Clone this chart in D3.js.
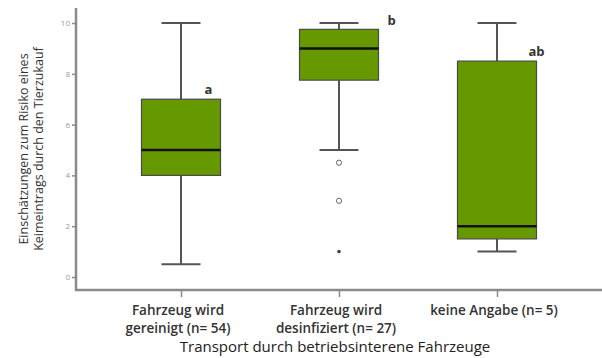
<!DOCTYPE html>
<html>
<head>
<meta charset="utf-8">
<script src="https://cdn.jsdelivr.net/npm/d3@7"></script>
<style>
  body { margin: 0; background: #fff; }
  text { font-family: "Open Sans", sans-serif; }
</style>
</head>
<body>
<div id="chart"></div>
<script>
// Data
let categories = ['Fahrzeug wird|gereinigt (n= 54)', 'Fahrzeug wird|desinfiziert (n= 27)', 'keine Angabe (n= 5)'];
let whiskerLow = [0.5, 5, 1];
let q1 = [4, 7.75, 1.5];
let median = [5, 9, 2];
let q3 = [7, 9.75, 8.5];
let whiskerHigh = [10, 10, 10];
let letters = ['a', 'b', 'ab'];
// outliers: [category index, value, type]
let outliers = [[1, 4.5, 'o'], [1, 3, 'o'], [1, 1, '*']];
let yTicks = [0, 2, 4, 6, 8, 10];

const W = 602, H = 358;
let svg = d3.select('#chart').append('svg')
  .attr('width', W).attr('height', H);

let xScale = d3.scalePoint()
  .domain(categories)
  .range([181, 497]);
let yScale = d3.scaleLinear()
  .domain([0, 10])
  .range([277, 23]);

let axisColor = '#8a8a8a';
let boxW = 79, capW = 39;

// y axis
let yAxis = d3.axisLeft(yScale).tickValues(yTicks).tickSize(4).tickPadding(2);
let yG = svg.append('g').attr('transform', 'translate(76,0)').call(yAxis);
yG.select('.domain').remove();
yG.selectAll('line').attr('stroke', axisColor).attr('stroke-width', 1.5);
yG.selectAll('text').attr('fill', '#999').style('font-size', '8px');
svg.append('line')
  .attr('x1', 76).attr('x2', 76).attr('y1', 8).attr('y2', 291)
  .attr('stroke', axisColor).attr('stroke-width', 2.5);

// x axis
let xAxis = d3.axisBottom(xScale).tickSize(7).tickFormat('');
let xG = svg.append('g').attr('transform', 'translate(0,290)').call(xAxis);
xG.select('.domain').remove();
xG.selectAll('line').attr('stroke', axisColor).attr('stroke-width', 1.5);
svg.append('line')
  .attr('x1', 75).attr('x2', W).attr('y1', 290).attr('y2', 290)
  .attr('stroke', axisColor).attr('stroke-width', 2.5);

// boxes
let boxes = svg.selectAll('g.box')
  .data(categories)
  .enter().append('g').attr('class', 'box');

boxes.each(function(c, i) {
  let g = d3.select(this), cx = xScale(c);
  // whiskers
  g.append('line')
    .attr('x1', cx).attr('x2', cx)
    .attr('y1', yScale(whiskerHigh[i])).attr('y2', yScale(q3[i]))
    .attr('stroke', '#555').attr('stroke-width', 2);
  g.append('line')
    .attr('x1', cx).attr('x2', cx)
    .attr('y1', yScale(q1[i])).attr('y2', yScale(whiskerLow[i]))
    .attr('stroke', '#555').attr('stroke-width', 2);
  [whiskerHigh[i], whiskerLow[i]].forEach(v => {
    g.append('line')
      .attr('x1', cx - capW / 2).attr('x2', cx + capW / 2)
      .attr('y1', yScale(v)).attr('y2', yScale(v))
      .attr('stroke', '#555').attr('stroke-width', 2);
  });
  g.append('rect')
    .attr('x', cx - boxW / 2).attr('width', boxW)
    .attr('y', yScale(q3[i])).attr('height', yScale(q1[i]) - yScale(q3[i]))
    .attr('fill', '#669900').attr('stroke', '#4a4a4a').attr('stroke-width', 1.2);
  g.append('line')
    .attr('x1', cx - boxW / 2).attr('x2', cx + boxW / 2)
    .attr('y1', yScale(median[i])).attr('y2', yScale(median[i]))
    .attr('stroke', '#111').attr('stroke-width', 2.5);

  // letters: above the box corner, or beside the top cap if there's no room
  let tight = yScale(q3[i]) - yScale(whiskerHigh[i]) < 15;
  let lx, ly;
  if (tight) {
    lx = cx + boxW / 2 + 13;
    ly = yScale(whiskerHigh[i]) + 2;
  } else {
    lx = cx + boxW / 2 - (letters[i].length > 1 ? 0 : 12);
    ly = yScale(q3[i]) - 5;
  }
  g.append('text')
    .attr('x', lx).attr('y', ly)
    .attr('text-anchor', 'middle')
    .attr('fill', '#333').style('font-size', '13px').style('font-weight', 'bold')
    .text(letters[i]);
});

svg.selectAll('.outlier')
  .data(outliers)
  .enter().append('g').attr('class', 'outlier')
  .each(function(d) {
    let cx = xScale(categories[d[0]]), cy = yScale(d[1]);
    if (d[2] == 'o') {
      d3.select(this).append('circle')
        .attr('cx', cx).attr('cy', cy).attr('r', 2.6)
        .attr('fill', 'none').attr('stroke', '#666').attr('stroke-width', 1);
    } else {
      d3.select(this).append('circle')
        .attr('cx', cx).attr('cy', cy).attr('r', 1.8)
        .attr('fill', '#444');
    }
  });

// category labels
categories.forEach(c => {
  let lines = c.split('|');
  let t = svg.append('text')
    .attr('x', xScale(c) - 3).attr('y', 315)
    .attr('text-anchor', 'middle')
    .attr('fill', '#333').style('font-size', '13.5px').style('font-weight', '600');
  lines.forEach((l, k) => {
    t.append('tspan').attr('x', xScale(c) - 3).attr('dy', k == 0 ? 0 : 18).text(l);
  });
});

// axis titles
svg.append('text')
  .attr('x', 335).attr('y', 352)
  .attr('text-anchor', 'middle')
  .attr('fill', '#222').style('font-size', '15px')
  .text('Transport durch betriebsinterene Fahrzeuge');

let yt = svg.append('text')
  .attr('transform', 'translate(28,149) rotate(-90)')
  .attr('text-anchor', 'middle')
  .attr('fill', '#333').style('font-size', '12.5px');
yt.append('tspan').attr('x', 0).attr('dy', 0).text('Einschätzungen zum Risiko eines');
yt.append('tspan').attr('x', 0).attr('dy', 15).text('Keimeintrags durch den Tierzukauf');
</script>
</body>
</html>
